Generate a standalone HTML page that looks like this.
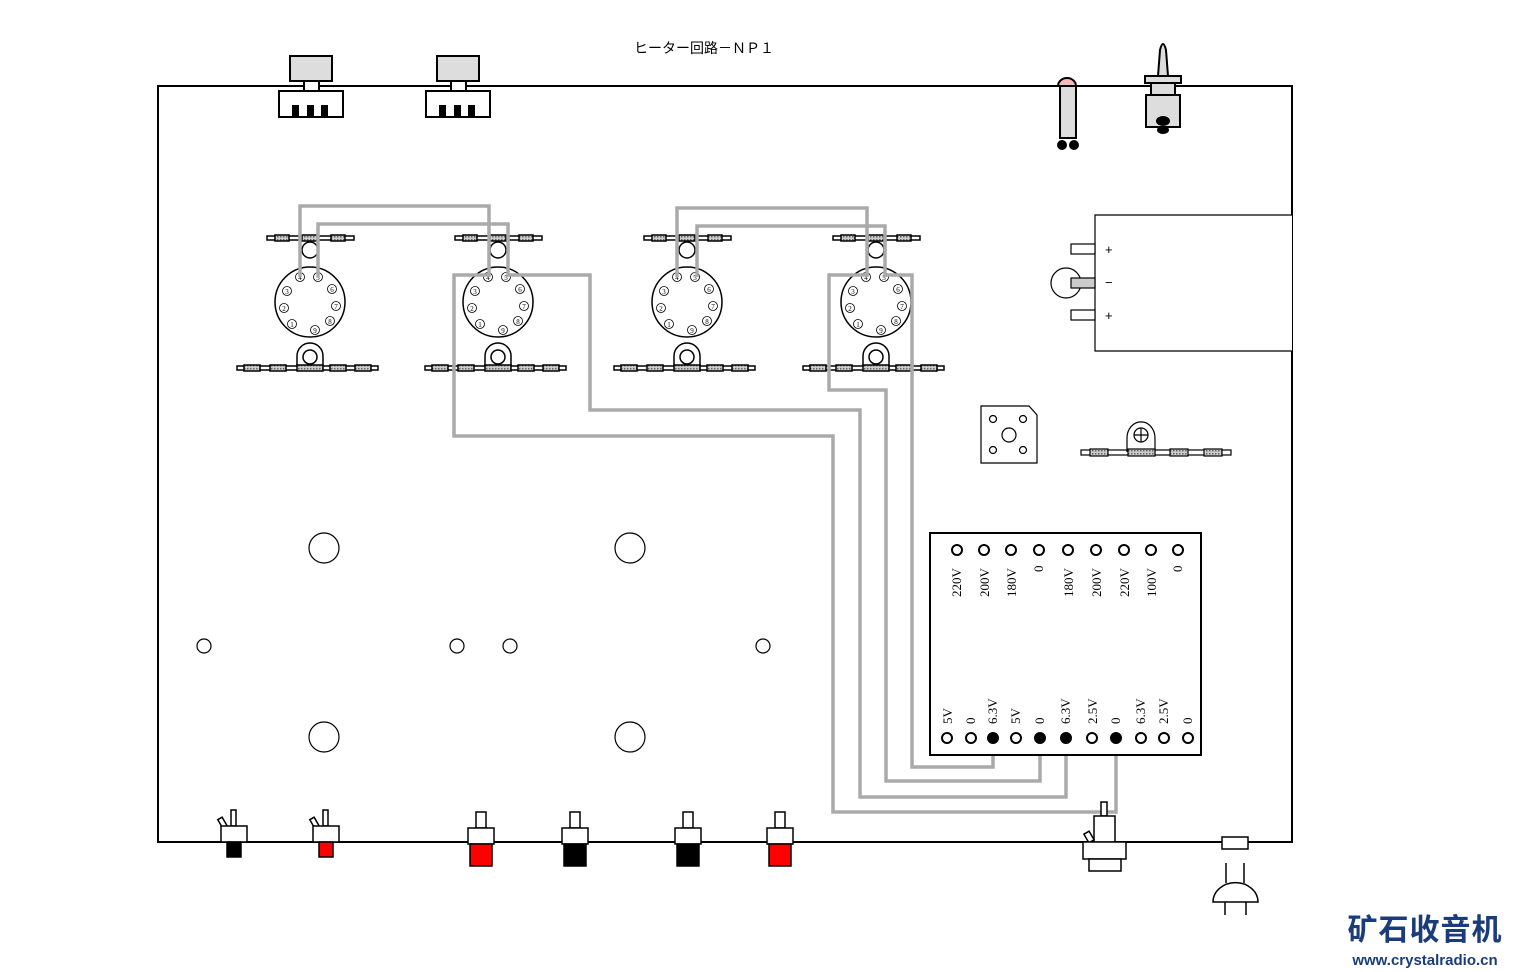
<!DOCTYPE html>
<html><head><meta charset="utf-8"><style>
body{margin:0;background:#fff;}
svg{display:block;font-family:"Liberation Serif","Noto Serif CJK SC",serif;}
</style></head><body>
<svg width="1513" height="972" viewBox="0 0 1513 972" xmlns="http://www.w3.org/2000/svg">
<defs>
<pattern id="h" width="3" height="3" patternUnits="userSpaceOnUse"><rect width="3" height="3" fill="#ccc"/><rect width="1.5" height="1.5" fill="#666"/></pattern>
<g id="sock" stroke="#000" stroke-width="1.5" fill="#fff">
<rect x="-43" y="-66" width="87" height="4"/>
<rect x="-35" y="-67" width="14" height="6" fill="url(#h)"/>
<rect x="-8" y="-67" width="16" height="6" fill="url(#h)"/>
<rect x="21" y="-67" width="14" height="6" fill="url(#h)"/>
<circle cx="0" cy="-52" r="8"/>
<circle cx="0" cy="0" r="35"/>
<path d="M-13,66 L-13,54 A13,13 0 0 1 13,54 L13,66" />
<circle cx="0" cy="55" r="7"/>
<rect x="-73" y="64" width="141" height="4"/>
<rect x="-66" y="63" width="16" height="6" fill="url(#h)"/>
<rect x="-40" y="63" width="16" height="6" fill="url(#h)"/>
<rect x="-13" y="63" width="26" height="6" fill="url(#h)"/>
<rect x="20" y="63" width="16" height="6" fill="url(#h)"/>
<rect x="45" y="63" width="16" height="6" fill="url(#h)"/>
<g stroke-width="0.8">
<circle cx="-10" cy="-25" r="4.5"/><circle cx="8" cy="-25" r="4.5"/><circle cx="22" cy="-13" r="4.5"/><circle cx="26" cy="4" r="4.5"/><circle cx="20" cy="19" r="4.5"/><circle cx="5" cy="28" r="4.5"/><circle cx="-18" cy="22" r="4.5"/><circle cx="-26" cy="6" r="4.5"/><circle cx="-23" cy="-11" r="4.5"/>
</g>
<g font-size="7" fill="#000" stroke="none" text-anchor="middle">
<text x="-10" y="-22">4</text><text x="8" y="-22">5</text><text x="22" y="-10">6</text><text x="26" y="7">7</text><text x="20" y="22">8</text><text x="5" y="31">9</text><text x="-18" y="25">1</text><text x="-26" y="9">2</text><text x="-23" y="-8">3</text>
</g>
</g>
</defs>

<text x="704" y="53" font-size="14" text-anchor="middle" font-family="Liberation Sans,Noto Sans CJK JP,sans-serif">ヒーター回路－ＮＰ１</text>

<!-- chassis -->
<path d="M158,842 L158,86 L1292,86 L1292,842 Z" fill="none" stroke="#000" stroke-width="2"/>

<!-- pots top -->
<g stroke="#000" stroke-width="2">
<rect x="290" y="56" width="42" height="25" fill="#ddd"/><rect x="304" y="81" width="15" height="10" fill="#fff"/><rect x="279" y="91" width="64" height="26" fill="#fff"/>
<rect x="293" y="106" width="5" height="10" fill="#000"/><rect x="308" y="106" width="5" height="10" fill="#000"/><rect x="322" y="106" width="5" height="10" fill="#000"/>
<rect x="437" y="56" width="42" height="25" fill="#ddd"/><rect x="451" y="81" width="15" height="10" fill="#fff"/><rect x="426" y="91" width="64" height="26" fill="#fff"/>
<rect x="440" y="106" width="5" height="10" fill="#000"/><rect x="455" y="106" width="5" height="10" fill="#000"/><rect x="469" y="106" width="5" height="10" fill="#000"/>
</g>
<!-- pilot lamp -->
<g stroke="#000" stroke-width="2">
<path d="M1058,86 A9,8 0 0 1 1076,86 Z" fill="#f4b8b8"/>
<rect x="1060" y="86" width="16" height="52" fill="#ddd"/>
<circle cx="1062" cy="145" r="4" fill="#000"/><circle cx="1074" cy="145" r="4" fill="#000"/>
</g>
<!-- fuse holder top -->
<g stroke="#000" stroke-width="2">
<path d="M1158,76 L1160,50 Q1163,38 1166,50 L1168,76 Z" fill="#ddd"/>
<rect x="1145" y="76" width="36" height="7" fill="#ddd"/>
<rect x="1151" y="83" width="24" height="12" fill="#ddd"/>
<rect x="1146" y="95" width="34" height="32" fill="#ddd"/>
<ellipse cx="1163" cy="121" rx="6" ry="4" fill="#000"/><ellipse cx="1163" cy="130" rx="5" ry="3" fill="#000"/>
</g>

<!-- sockets -->
<use href="#sock" x="310" y="302"/>
<use href="#sock" x="498" y="302"/>
<use href="#sock" x="687" y="302"/>
<use href="#sock" x="876" y="302"/>

<!-- wires -->
<g fill="none" stroke="#aaa" stroke-width="3.5">
<path d="M300,277 L300,206 L489,206 L489,277"/>
<path d="M318,277 L318,224 L508,224 L508,277"/>
<path d="M677,277 L677,208 L867,208 L867,277"/>
<path d="M697,277 L697,226 L885,226 L885,277"/>
<path d="M489,275 L454,275 L454,436 L833,436 L833,812 L1116,812 L1116,738"/>
<path d="M508,275 L590,275 L590,410 L860,410 L860,797 L1066,797 L1066,738"/>
<path d="M867,275 L829,275 L829,390 L886,390 L886,781 L1040,781 L1040,738"/>
<path d="M885,275 L912,275 L912,767 L993,767 L993,738"/>
</g>

<!-- battery -->
<g stroke="#000" stroke-width="1.2" fill="#fff">
<path d="M1292,215 L1095,215 L1095,351 L1292,351"/>
<circle cx="1066" cy="283" r="15"/>
<rect x="1071" y="244" width="24" height="10"/>
<rect x="1071" y="278" width="24" height="10" fill="#ccc"/>
<rect x="1071" y="310" width="24" height="10"/>
</g>
<g font-size="13" font-family="Liberation Sans,sans-serif"><text x="1105" y="254">+</text><text x="1105" y="287">−</text><text x="1105" y="320">+</text></g>

<!-- small board -->
<g stroke="#000" stroke-width="1.2" fill="#fff">
<path d="M981,406 L1029,406 L1037,415 L1037,463 L981,463 Z"/>
<circle cx="993" cy="419" r="3.5"/><circle cx="1023" cy="419" r="3.5"/><circle cx="993" cy="450" r="3.5"/><circle cx="1023" cy="450" r="3.5"/>
<circle cx="1009" cy="435" r="7"/>
<rect x="1081" y="450" width="150" height="5"/>
<path d="M1127,452 L1127,438 A13,15 0 0 1 1155,438 L1155,452"/>
<circle cx="1141" cy="435" r="7"/><path d="M1134,435 L1148,435 M1141,428 L1141,442"/>
<rect x="1090" y="449" width="18" height="7" fill="url(#h)"/><rect x="1128" y="449" width="27" height="7" fill="url(#h)"/><rect x="1170" y="449" width="18" height="7" fill="url(#h)"/><rect x="1204" y="449" width="18" height="7" fill="url(#h)"/>
</g>

<!-- chassis holes -->
<g stroke="#000" stroke-width="1.2" fill="#fff">
<circle cx="324" cy="548" r="15"/><circle cx="630" cy="548" r="15"/><circle cx="324" cy="737" r="15"/><circle cx="630" cy="737" r="15"/>
<circle cx="204" cy="646" r="7"/><circle cx="457" cy="646" r="7"/><circle cx="510" cy="646" r="7"/><circle cx="763" cy="646" r="7"/>
</g>

<!-- transformer -->
<rect x="930" y="533" width="271" height="222" fill="#fff" stroke="#000" stroke-width="2"/>
<g stroke="#000" stroke-width="2" fill="#fff">
<circle cx="957" cy="550" r="5"/><circle cx="984" cy="550" r="5"/><circle cx="1011" cy="550" r="5"/><circle cx="1039" cy="550" r="5"/><circle cx="1068" cy="550" r="5"/><circle cx="1096" cy="550" r="5"/><circle cx="1124" cy="550" r="5"/><circle cx="1151" cy="550" r="5"/><circle cx="1178" cy="550" r="5"/>
<circle cx="947" cy="738" r="5"/><circle cx="971" cy="738" r="5"/><circle cx="993" cy="738" r="5" fill="#000"/><circle cx="1016" cy="738" r="5"/><circle cx="1040" cy="738" r="5" fill="#000"/><circle cx="1066" cy="738" r="5" fill="#000"/><circle cx="1092" cy="738" r="5"/><circle cx="1116" cy="738" r="5" fill="#000"/><circle cx="1141" cy="738" r="5"/><circle cx="1164" cy="738" r="5"/><circle cx="1188" cy="738" r="5"/>
</g>
<g font-size="13">
<text transform="translate(961,597) rotate(-90)">220V</text>
<text transform="translate(989,597) rotate(-90)">200V</text>
<text transform="translate(1016,597) rotate(-90)">180V</text>
<text transform="translate(1043,572) rotate(-90)">0</text>
<text transform="translate(1073,597) rotate(-90)">180V</text>
<text transform="translate(1101,597) rotate(-90)">200V</text>
<text transform="translate(1129,597) rotate(-90)">220V</text>
<text transform="translate(1156,597) rotate(-90)">100V</text>
<text transform="translate(1182,572) rotate(-90)">0</text>
<text transform="translate(952,724) rotate(-90)">5V</text>
<text transform="translate(975,724) rotate(-90)">0</text>
<text transform="translate(997,724) rotate(-90)">6.3V</text>
<text transform="translate(1020,724) rotate(-90)">5V</text>
<text transform="translate(1044,724) rotate(-90)">0</text>
<text transform="translate(1070,724) rotate(-90)">6.3V</text>
<text transform="translate(1097,724) rotate(-90)">2.5V</text>
<text transform="translate(1120,724) rotate(-90)">0</text>
<text transform="translate(1145,724) rotate(-90)">6.3V</text>
<text transform="translate(1168,724) rotate(-90)">2.5V</text>
<text transform="translate(1192,724) rotate(-90)">0</text>
</g>

<!-- bottom components -->
<g stroke="#000" stroke-width="1.5">
<rect x="231" y="810" width="5" height="16" fill="#fff"/><rect x="220" y="818" width="5" height="10" fill="#fff" transform="rotate(-30 222 823)"/>
<rect x="221" y="826" width="26" height="16" fill="#fff"/><rect x="227" y="842" width="14" height="15" fill="#000"/>
<rect x="323" y="810" width="5" height="16" fill="#fff"/><rect x="312" y="818" width="5" height="10" fill="#fff" transform="rotate(-30 314 823)"/>
<rect x="313" y="826" width="26" height="16" fill="#fff"/><rect x="319" y="842" width="14" height="15" fill="red"/>
<rect x="476" y="812" width="10" height="16" fill="#fff"/><rect x="468" y="828" width="26" height="16" fill="#fff"/><rect x="470" y="844" width="22" height="22" fill="red"/>
<rect x="570" y="812" width="10" height="16" fill="#fff"/><rect x="562" y="828" width="26" height="16" fill="#fff"/><rect x="564" y="844" width="22" height="22" fill="#000"/>
<rect x="683" y="812" width="10" height="16" fill="#fff"/><rect x="675" y="828" width="26" height="16" fill="#fff"/><rect x="677" y="844" width="22" height="22" fill="#000"/>
<rect x="775" y="812" width="10" height="16" fill="#fff"/><rect x="767" y="828" width="26" height="16" fill="#fff"/><rect x="769" y="844" width="22" height="22" fill="red"/>
<rect x="1101" y="802" width="6" height="14" fill="#fff"/><rect x="1094" y="816" width="21" height="26" fill="#fff"/>
<rect x="1086" y="832" width="6" height="10" fill="#fff" transform="rotate(-30 1089 837)"/>
<rect x="1083" y="842" width="43" height="17" fill="#fff"/><rect x="1089" y="859" width="32" height="12" fill="#fff"/>
<rect x="1222" y="837" width="26" height="12" fill="#fff"/>
<path d="M1226,863 L1226,883 M1244,863 L1244,883 M1213,902 A22,19 0 0 1 1258,902 Z M1225,902 L1225,915 M1246,902 L1246,915" fill="#fff"/>
</g>

<!-- logo -->
<text x="1425" y="940" font-size="30" font-weight="bold" fill="#1a3c7a" text-anchor="middle" font-family="Noto Sans CJK SC,sans-serif" letter-spacing="1">矿石收音机</text>
<text x="1425" y="965" font-size="15" font-weight="bold" fill="#1a3c7a" text-anchor="middle" font-family="Liberation Sans,sans-serif">www.crystalradio.cn</text>
</svg>
</body></html>
